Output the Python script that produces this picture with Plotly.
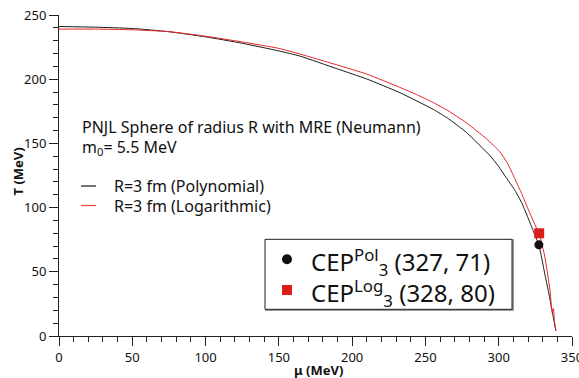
import plotly.graph_objects as go

# ---- data ----
mu_pol = [0, 25, 50, 75, 100, 125, 150, 164.4, 190, 209.9, 232.6, 255.3, 266, 278, 294, 300, 305,
          311, 316, 320, 323.5, 327.4, 329.2, 331.5, 333.8, 336, 338, 339]
T_pol = [241, 240.5, 239.5, 237, 233, 228, 222, 218, 208, 200.2, 189.5, 176.5, 169, 158.5, 140.5, 132, 123.5,
         113.5, 103, 92, 82, 71, 61.5, 48, 35.5, 22, 10, 4]

mu_log = [0, 25, 50, 75, 100, 125, 150, 164.4, 190, 209.9, 232.6, 245, 255, 265, 278, 291.7, 300.8,
          306, 311, 316, 320, 325.8, 327.6, 331.5, 335, 336, 336.6, 337.3, 338, 339]
T_log = [239, 239, 238.5, 237, 233.5, 229, 224, 219.6, 211, 204, 193.6, 187.5, 182, 175.8, 166, 153.5, 143.5,
         134.5, 122.5, 110, 99, 84, 80, 61.4, 35.5, 22.5, 18, 21.5, 12, 4]

cep_mu = [327.4, 327.6]
cep_T = [71, 80]
cep_labels = ["CEP<sup>Pol</sup><sub>3</sub> (327, 71)", "CEP<sup>Log</sup><sub>3</sub> (328, 80)"]

series_names = ["R=3 fm (Polynomial)", "R=3 fm (Logarithmic)"]
title_lines = ["PNJL Sphere of radius R with MRE (Neumann)", "m<sub>0</sub>= 5.5 MeV"]

BLACK = "#1a1a1a"
RED = "#e8262a"
FONT = "Noto Sans"

W, H = 579, 378
L, R, T, B = 59, 7, 15, 42
PW, PH = W - L - R, H - T - B


def px(x):
    return (x - L) / PW


def py(y):
    return (H - B - y) / PH


fig = go.Figure()
fig.add_trace(go.Scatter(x=mu_pol, y=T_pol, mode="lines",
                         line=dict(color=BLACK, width=1, shape="spline", smoothing=0.5),
                         name=series_names[0], showlegend=False))
fig.add_trace(go.Scatter(x=mu_log, y=T_log, mode="lines",
                         line=dict(color=RED, width=1, shape="spline", smoothing=0.5),
                         name=series_names[1], showlegend=False))
fig.add_trace(go.Scatter(x=[cep_mu[1]], y=[cep_T[1]], mode="markers",
                         marker=dict(symbol="square", size=10, color="#dd1c1c"), showlegend=False))
fig.add_trace(go.Scatter(x=[cep_mu[0]], y=[cep_T[0]], mode="markers",
                         marker=dict(symbol="circle", size=9, color="#111111"), showlegend=False))

shapes = []
annotations = []

# descriptive text
annotations.append(dict(x=px(80), y=py(126.5), xref="paper", yref="paper", xanchor="left", yanchor="middle",
                        text=title_lines[0], showarrow=False, font=dict(family=FONT, size=16, color="#111")))
annotations.append(dict(x=px(80), y=py(147.5), xref="paper", yref="paper", xanchor="left", yanchor="middle",
                        text=title_lines[1], showarrow=False, font=dict(family=FONT, size=16, color="#111")))
# line legend
for i, (yy, col) in enumerate([(186, BLACK), (205.5, "#ee4444")]):
    shapes.append(dict(type="line", xref="paper", yref="paper", x0=px(81), x1=px(96), y0=py(yy), y1=py(yy),
                       line=dict(color=col, width=1.2)))
    annotations.append(dict(x=px(112), y=py(yy), xref="paper", yref="paper", xanchor="left", yanchor="middle",
                            text=series_names[i], showarrow=False, font=dict(family=FONT, size=16, color="#111")))

# CEP box
shapes.append(dict(type="rect", xref="paper", yref="paper", x0=px(266), x1=px(513), y0=py(240), y1=py(310),
                   line=dict(color="#777", width=1.5), fillcolor="rgba(0,0,0,0)"))
shapes.append(dict(type="rect", xref="paper", yref="paper", x0=px(265), x1=px(512), y0=py(239.3), y1=py(309.3),
                   line=dict(color="#222", width=1), fillcolor="white"))
shapes.append(dict(type="circle", xref="paper", yref="paper", x0=px(282), x1=px(292), y0=py(254.3), y1=py(264.3),
                   line=dict(color="#111", width=0), fillcolor="#111"))
shapes.append(dict(type="rect", xref="paper", yref="paper", x0=px(282), x1=px(292), y0=py(285), y1=py(295),
                   line=dict(color="#dd1c1c", width=0), fillcolor="#dd1c1c"))
for yy, lab in zip([262, 292.5], cep_labels):
    annotations.append(dict(x=px(309), y=py(yy), xref="paper", yref="paper", xanchor="left", yanchor="middle",
                            text=lab, showarrow=False, font=dict(family=FONT, size=24, color="#111")))

# axis titles
annotations.append(dict(x=px(17.5), y=py(172), xref="paper", yref="paper", xanchor="center", yanchor="middle",
                        text="<b>T (MeV)</b>", textangle=-90, showarrow=False,
                        font=dict(family=FONT, size=13, color="#111")))
annotations.append(dict(x=px(318), y=py(370), xref="paper", yref="paper", xanchor="center", yanchor="middle",
                        text="<b>μ (MeV)</b>", showarrow=False, font=dict(family=FONT, size=13, color="#111")))

axis_common = dict(showgrid=False, zeroline=False, showline=True, linecolor="#222", linewidth=1,
                   ticks="outside", ticklen=9, tickwidth=1, tickcolor="#222", ticklabeloverflow="allow",
                   tickfont=dict(family=FONT, size=13, color="#111"), dtick=50,
                   minor=dict(ticks="outside", ticklen=5, dtick=10, tickcolor="#222", tickwidth=1, showgrid=False))

fig.update_layout(
    width=W, height=H, margin=dict(l=L, r=R, t=T, b=B, autoexpand=False),
    paper_bgcolor="white", plot_bgcolor="white",
    xaxis=dict(range=[0, 350], automargin=False, **axis_common),
    yaxis=dict(range=[0, 250], automargin=False, **axis_common),
    shapes=shapes, annotations=annotations,
)
fig.write_html("out.html")
